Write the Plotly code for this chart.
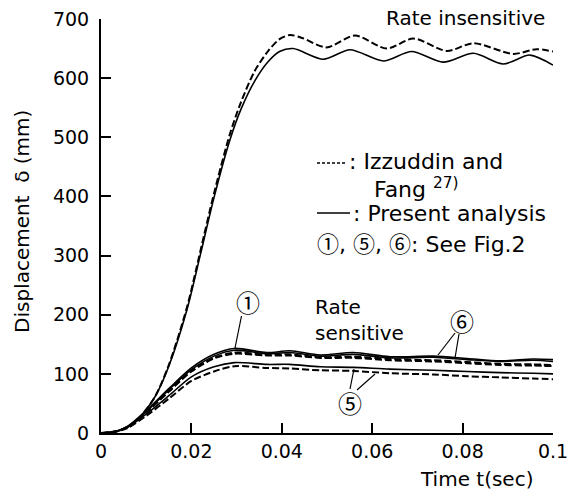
import plotly.graph_objects as go

# ---------------- data ----------------
t_ins_fang = [0, 0.004, 0.007, 0.0093, 0.012, 0.015, 0.019, 0.022, 0.025, 0.0285, 0.031, 0.034,
              0.037, 0.0395, 0.0418, 0.0445, 0.0499, 0.0562, 0.0632, 0.0691, 0.0765, 0.0824,
              0.0912, 0.0964, 0.1]
v_ins_fang = [0, 4, 15, 33, 62, 115, 212, 308, 405, 505, 560, 612, 646, 666, 673, 668, 652, 672,
              650, 667, 646, 659, 641, 649, 645]

t_ins_present = [0, 0.004, 0.007, 0.0093, 0.012, 0.015, 0.019, 0.022, 0.025, 0.0285, 0.031, 0.034,
                 0.037, 0.0395, 0.0425, 0.0492, 0.0551, 0.0625, 0.0687, 0.0757, 0.0824, 0.089,
                 0.0949, 0.1]
v_ins_present = [0, 4, 15, 33, 62, 113, 208, 302, 398, 495, 548, 595, 628, 645, 650, 632, 648,
                 629, 645, 627, 642, 624, 639, 622]

t_sens = [0, 0.003, 0.006, 0.010, 0.015, 0.020, 0.025, 0.0295, 0.0367, 0.0418, 0.0485, 0.0558,
          0.0639, 0.0735, 0.081, 0.0883, 0.0956, 0.1]
v_c1_present = [0, 2, 12, 38, 75, 110, 133, 143, 136, 139, 132, 136, 129, 130, 126, 122, 125, 124]
v_c1_fang = [0, 2, 11, 35, 70, 104, 126, 134, 131, 131, 127, 127, 123, 121, 118, 115, 114, 113]
v_c6_present = [0, 2, 11, 36, 73, 107, 130, 140, 134, 136, 130, 133, 127, 128, 124, 121, 123, 121]
v_c6_fang = [0, 2, 11, 35, 70, 105, 127, 136, 132, 133, 128, 129, 125, 123, 120, 117, 116, 115]
v_c5_present = [0, 2, 10, 32, 63, 95, 112, 119, 116, 116, 112, 111, 108, 106, 104, 102, 101, 100]
v_c5_fang = [0, 2, 9, 29, 58, 88, 104, 113, 110, 109, 106, 105, 101, 99, 96, 94, 92, 91]

x_tickvals = [0, 0.02, 0.04, 0.06, 0.08, 0.1]
x_ticktext = ["0", "0.02", "0.04", "0.06", "0.08", "0.1"]
y_tickvals = [0, 100, 200, 300, 400, 500, 600, 700]
y_ticktext = ["0", "100", "200", "300", "400", "500", "600", "700"]

# ---------------- layout helpers ----------------
FONT = "DejaVu Sans"
CJK = "Noto Sans CJK JP"
L, R, T, B = 101, 553, 19, 433          # plot area in pixels
W, H = 578, 494


def ppx(xp):  # pixel -> paper
    return (xp - L) / (R - L)


def ppy(yp):
    return (B - yp) / (B - T)


fig = go.Figure()

dash_style = dict(color="black", width=2, dash="7px,3px")
solid_style = dict(color="black", width=1.6)

fig.add_trace(go.Scatter(x=t_ins_fang, y=v_ins_fang, mode="lines",
                         line=dict(**dash_style, shape="spline", smoothing=0.8)))
fig.add_trace(go.Scatter(x=t_ins_present, y=v_ins_present, mode="lines",
                         line=dict(**solid_style, shape="spline", smoothing=0.8)))
for vals, style in [(v_c1_present, solid_style), (v_c1_fang, dash_style),
                    (v_c6_present, solid_style), (v_c6_fang, dash_style),
                    (v_c5_present, solid_style), (v_c5_fang, dash_style)]:
    fig.add_trace(go.Scatter(x=t_sens, y=vals, mode="lines",
                             line=dict(**style, shape="spline", smoothing=0.8)))

ann = []
shapes = []


def text(xp, yp, s, size=20, xanchor="center", align="center", family=FONT):
    ann.append(dict(x=ppx(xp), y=ppy(yp), xref="paper", yref="paper", text=s, showarrow=False,
                    xanchor=xanchor, yanchor="middle", align=align,
                    font=dict(family=family, size=size, color="black")))


def seg(x0, y0, x1, y1, width=1.2, dash="solid"):
    shapes.append(dict(type="line", xref="paper", yref="paper",
                       x0=ppx(x0), y0=ppy(y0), x1=ppx(x1), y1=ppy(y1),
                       line=dict(color="black", width=width, dash=dash)))


def circ(s):
    return "<span style='font-family:Noto Sans CJK JP'>" + s + "</span>"


text(465, 18, "Rate insensitive", 20)
text(313, 320, "Rate<br>sensitive", 20, xanchor="left", align="left")
# circled labels
text(248, 302, "①", 24, family=CJK)
seg(241.5, 316, 235, 348)
text(462, 320, "⑥", 24, family=CJK)
seg(455, 333, 438, 355)
seg(459, 334, 455, 358)
text(350, 402, "⑤", 24, family=CJK)
seg(350, 389, 354, 369)
seg(357, 390, 375, 374)

# legend block
seg(317, 163, 345, 163, width=1.5, dash="3px,2px")
text(347, 161, ": Izzuddin and", 22, xanchor="left", align="left")
text(372, 188, "Fang <sup>27)</sup>", 22, xanchor="left", align="left")
seg(317, 213, 350, 213, width=1.6)
text(351, 213, ": Present analysis", 22, xanchor="left", align="left")
text(315, 242, circ("①") + ", " + circ("⑤") + ", " + circ("⑥") + ": See Fig.2",
     22, xanchor="left", align="left")

# axis titles
text(476, 479, "Time t(sec)", 20)
ann.append(dict(x=ppx(22), y=ppy(222), xref="paper", yref="paper",
                text="Displacement  δ (mm)", textangle=-90, showarrow=False,
                xanchor="center", yanchor="middle",
                font=dict(family=FONT, size=20, color="black")))

fig.update_layout(
    width=W, height=H,
    margin=dict(l=L, r=W - R, t=T, b=H - B),
    plot_bgcolor="white", paper_bgcolor="white",
    showlegend=False,
    annotations=ann, shapes=shapes,
    font=dict(family=FONT, size=18, color="black"),
)
fig.update_xaxes(range=[0, 0.1], tickvals=x_tickvals, ticktext=x_ticktext, automargin=False,
                 showgrid=False, zeroline=False, showline=True, linecolor="black", linewidth=2,
                 ticks="inside", ticklen=10, tickwidth=2, tickcolor="black",
                 tickfont=dict(family=FONT, size=19, color="black"), ticklabelstandoff=0)
fig.update_yaxes(range=[0, 700], tickvals=y_tickvals, ticktext=y_ticktext, automargin=False,
                 showgrid=False, zeroline=False, showline=True, linecolor="black", linewidth=2,
                 ticks="inside", ticklen=10, tickwidth=2, tickcolor="black",
                 tickfont=dict(family=FONT, size=19, color="black"), ticklabelstandoff=6)

fig.write_html("out.html", config={"displayModeBar": False},
               post_script="document.body.style.margin='0px';document.body.style.overflow='hidden';")
